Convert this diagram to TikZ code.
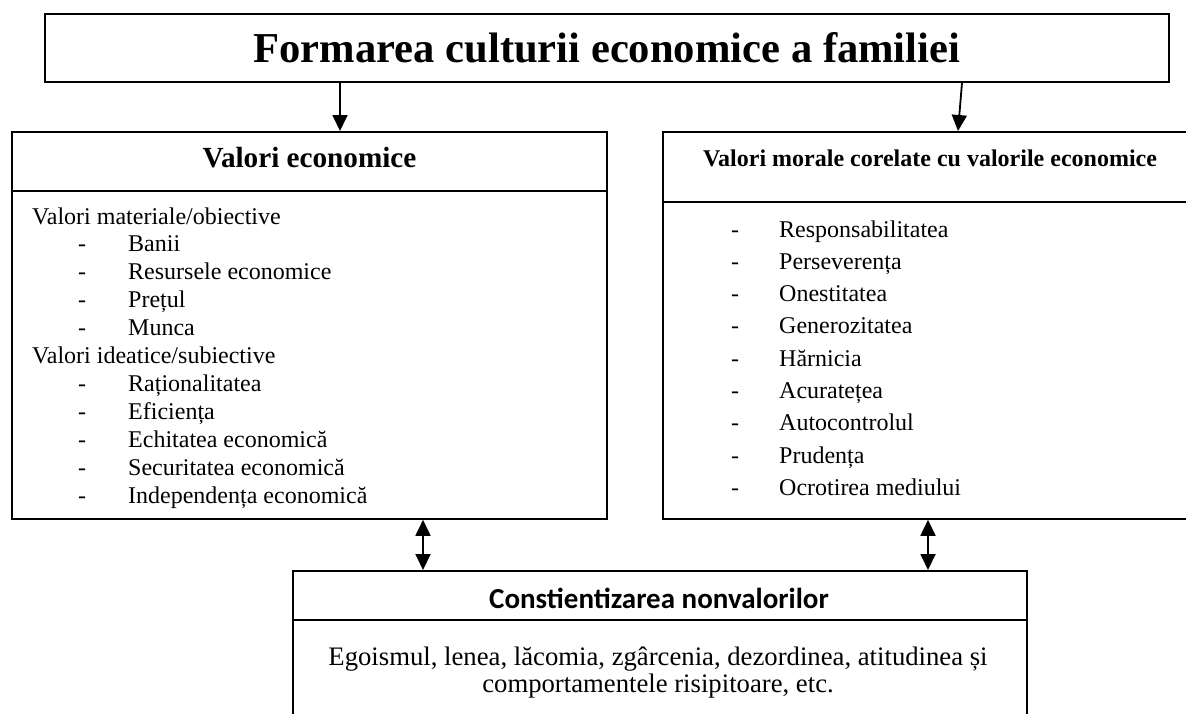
\documentclass[tikz,border=0pt]{standalone}
\usepackage{fontspec}
\setmainfont{Liberation Serif}
\newfontfamily\carlito{Carlito}
\usetikzlibrary{arrows.meta}
\tikzset{%
  box/.style     = {draw, line width=1.8pt, inner sep=0pt, anchor=north west},%
  heading/.style = {inner sep=0pt, font=\fontsize{29.2pt}{35pt}\selectfont\bfseries},%
  item/.style    = {anchor=base west, inner sep=0pt, font=\fontsize{24pt}{28pt}\selectfont},%
  sep/.style     = {line width=1.8pt},%
  arr/.style     = {line width=1.8pt, -{Triangle[width=15pt,length=16pt]}},%
  darr/.style    = {line width=1.8pt, {Triangle[width=15pt,length=16pt]}-{Triangle[width=15pt,length=16pt]}}%
}
\begin{document}
\begin{tikzpicture}[x=1pt, y=-1pt]
	\useasboundingbox (0,0) rectangle (1186,713);
	% title
	\node[box, minimum width=1124pt, minimum height=68pt,
	      font=\fontsize{42.6pt}{50pt}\selectfont\bfseries] (title) at (44,13)
	      {Formarea culturii economice a familiei};
	% left box
	\node[box, minimum width=595pt, minimum height=387pt] (econ) at (11,131) {};
	\draw[sep] ([yshift=-60pt]econ.north west) -- ([yshift=-60pt]econ.north east);
	\node[heading] (hecon) at (309.5,158) {Valori economice};
	\node[item] (mat) at (32,224) {Valori materiale/obiective};
	\foreach \txt [count=\i] in {Banii, Resursele economice, Prețul, Munca}
		\node[item] (m\i) at (78,{224+27.9*\i}) {\makebox[50pt][l]{-}\txt};
	\node[item] (ide) at (32,363.5) {Valori ideatice/subiective};
	\foreach \txt [count=\i] in {Raționalitatea, Eficiența, Echitatea economică,
		Securitatea economică, Independența economică}
		\node[item] (s\i) at (78,{363.5+27.9*\i}) {\makebox[50pt][l]{-}\txt};
	% right box
	\node[box, minimum width=536pt, minimum height=387pt] (morale) at (662,131) {};
	\draw[sep] ([yshift=-71pt]morale.north west) -- ([yshift=-71pt]morale.north east);
	\node[heading, font=\fontsize{24pt}{28pt}\selectfont\bfseries] (hmorale) at (930,158)
		{Valori morale corelate cu valorile economice};
	\foreach \txt [count=\i] in {Responsabilitatea, Perseverența, Onestitatea,
		Generozitatea, Hărnicia, Acuratețea, Autocontrolul, Prudența, Ocrotirea mediului}
		\node[item] (v\i) at (731,{237+32.3*(\i-1)}) {\makebox[48pt][l]{-}\txt};
	% bottom box
	\node[box, minimum width=734pt, minimum height=160pt] (nonval) at (292,570) {};
	\draw[sep] ([yshift=-50pt]nonval.north west) -- ([yshift=-50pt]nonval.north east);
	\node[heading, anchor=base, font=\fontsize{29pt}{34pt}\selectfont\carlito\bfseries]
		(hnonval) at (659,608) {Constientizarea nonvalorilor};
	\node[item, anchor=base, font=\fontsize{26.7pt}{30pt}\selectfont] (neg1) at (658,665)
		{Egoismul, lenea, lăcomia, zgârcenia, dezordinea, atitudinea și};
	\node[item, anchor=base, font=\fontsize{26.7pt}{30pt}\selectfont] (neg2) at (658,692)
		{comportamentele risipitoare, etc.};
	% arrows
	\draw[arr] ([xshift=296pt]title.south west) -- ([xshift=329pt]econ.north west);
	\draw[arr] ([xshift=918pt]title.south west) -- ([xshift=296pt]morale.north west);
	\draw[darr] ([xshift=412pt]econ.south west) -- ([xshift=131pt]nonval.north west);
	\draw[darr] ([xshift=266pt]morale.south west) -- ([xshift=636pt]nonval.north west);
\end{tikzpicture}
\end{document}
